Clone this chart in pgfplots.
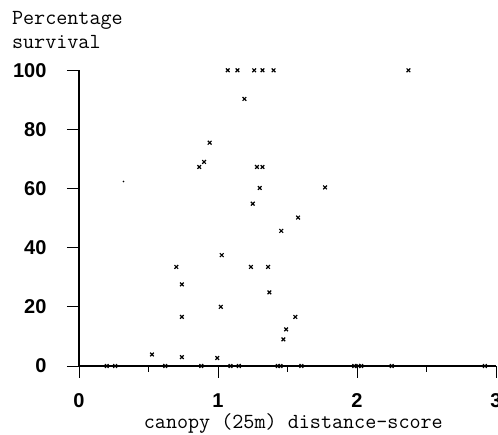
\documentclass[border=0pt]{standalone}
\usepackage{fontspec}
\usepackage{pgfplots}
\pgfplotsset{compat=1.18}
\newfontfamily\tickfont{Liberation Sans}
\begin{document}
\begin{tikzpicture}
\begin{axis}[
  at={(0,0)}, anchor=origin,
  x=139pt, y=2.957pt,
  xmin=0, xmax=3, ymin=0, ymax=100,
  axis lines=left,
  axis line style={-, line width=1.1pt},
  clip=false,
  xtick={0,1,2,3},
  ytick={0,20,40,60,80,100},
  minor xtick={0.5,1.5,2.5},
  tick align=outside,
  major tick length=12pt,
  minor tick length=6pt,
  tick style={line width=0.9pt, black},
  /pgf/number format/assume math mode=true,
  tick label style={font=\tickfont\bfseries\fontsize{20}{22}\selectfont},
  xticklabel style={anchor=north, yshift=-12pt},
  yticklabel style={anchor=east, xshift=-17pt},
  xlabel={canopy (25m) distance-score},
  every axis x label/.style={at={(axis description cs:0.514,-0.212)}, anchor=base, inner sep=0pt, font=\ttfamily\fontsize{21.5}{24}\selectfont},
  ylabel={Percentage\\survival},
  every axis y label/.style={at={(axis description cs:-0.161,1.2)}, anchor=north west, align=left, inner sep=0pt, font=\ttfamily\fontsize{21.5}{24}\selectfont},
]
\addplot[only marks, mark=x, mark size=2.6pt, mark options={line width=1.2pt}, black] coordinates {
(1.07,100) (1.14,100) (1.26,100) (1.32,100) (1.40,100) (2.37,100)
(1.19,90.3)
(0.94,75.5)
(0.865,67.3) (0.90,69)
(1.28,67.3) (1.32,67.3)
(1.30,60.2) (1.77,60.4)
(1.25,54.9)
(1.576,50.2)
(1.455,45.7)
(1.027,37.5)
(0.70,33.5) (1.237,33.5) (1.36,33.5)
(0.74,27.6)
(1.37,24.9)
(1.02,20)
(0.74,16.6) (1.556,16.6)
(1.49,12.4)
(1.47,9.0)
(0.525,3.9) (0.74,3.0) (0.995,2.7)
(0.20,0) (0.26,0) (0.62,0) (0.88,0) (1.09,0) (1.15,0) (1.43,0) (1.45,0)
(1.60,0) (1.98,0) (2.01,0) (2.03,0) (2.25,0) (2.92,0)
};
\addplot[only marks, mark=*, mark size=0.6pt, black] coordinates {(0.32,62.4)};
\end{axis}
\pgfresetboundingbox
\path[use as bounding box] (-79pt,-69pt) rectangle (419pt,366pt);
\end{tikzpicture}
\end{document}
